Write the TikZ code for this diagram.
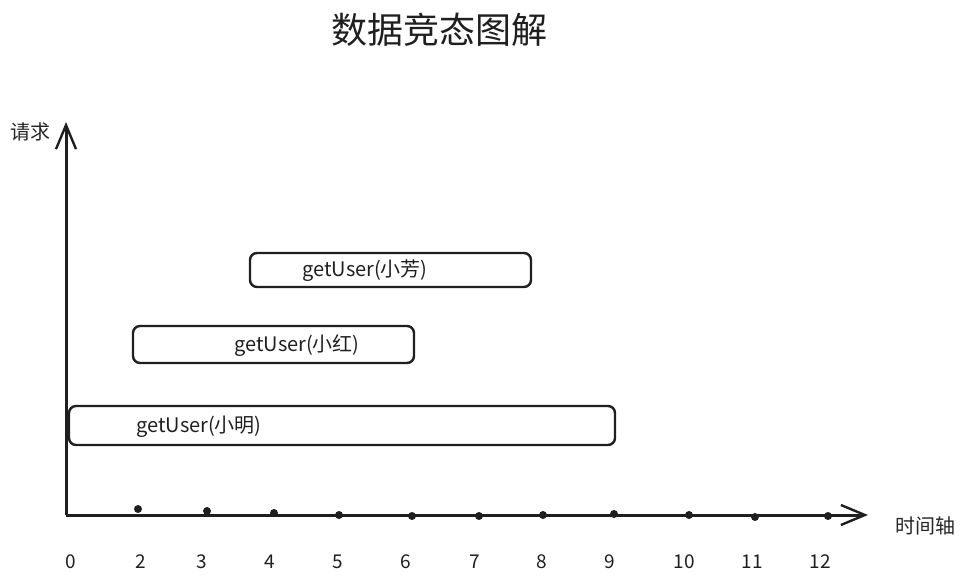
\documentclass[tikz,border=0pt]{standalone}
\usepackage{fontspec}
\setmainfont{Noto Sans CJK SC}
\usetikzlibrary{arrows.meta}
\begin{document}
\begin{tikzpicture}[x=1pt,y=-1pt,
  axisline/.style={line width=3pt,draw=black!88,-{Straight Barb[length=24pt,width=20pt,line width=2.4pt]}},
  reqbox/.style={draw=black!88,line width=2.4pt,rounded corners=7pt,inner sep=0pt},
  reqtext/.style={font=\fontsize{20}{24}\selectfont,text=black!88},
  tick/.style={circle,fill=black!88,inner sep=0pt,minimum size=8pt},
  ticklabel/.style={font=\fontsize{19}{22}\selectfont,text=black!88},
  axislabel/.style={font=\fontsize{20}{24}\selectfont,text=black!85}]
\useasboundingbox (0,0) rectangle (965,585);
\node[font=\fontsize{36}{42}\selectfont,text=black!88] (title) at (439,30) {数据竞态图解};
\coordinate (origin) at (66,515);
\coordinate (ytop) at (66,122);
\coordinate (xend) at (868,515);
\draw[axisline] (origin) -- (ytop);
\draw[axisline] (origin) -- (xend);
\node[axislabel] (ylab) at (30,132) {请求};
\node[axislabel] (xlab) at (925,526) {时间轴};
% ticks
\foreach \n/\x/\y in {2/138/509,3/207/511,4/274/513,5/339/515,6/412/516,7/479/516,8/543/515,9/614/514,10/689/515,11/755/517,12/828/516}
  \node[tick] (t\n) at (\x,\y) {};
\foreach \n/\x in {0/71,2/141,3/202,4/270,5/338,6/406,7/475,8/542,9/610,10/684,11/752,12/820}
  \node[ticklabel] (l\n) at (\x,562) {\n};
% boxes
\draw[reqbox] (250,253) rectangle (531,287);
\node[reqtext] (fang) at (365,271) {getUser(小芳)};
\draw[reqbox] (133,326) rectangle (414,363);
\node[reqtext] (hong) at (297,346) {getUser(小红)};
\draw[reqbox] (69,406) rectangle (615,445);
\node[reqtext] (ming) at (199,427) {getUser(小明)};
\end{tikzpicture}
\end{document}
